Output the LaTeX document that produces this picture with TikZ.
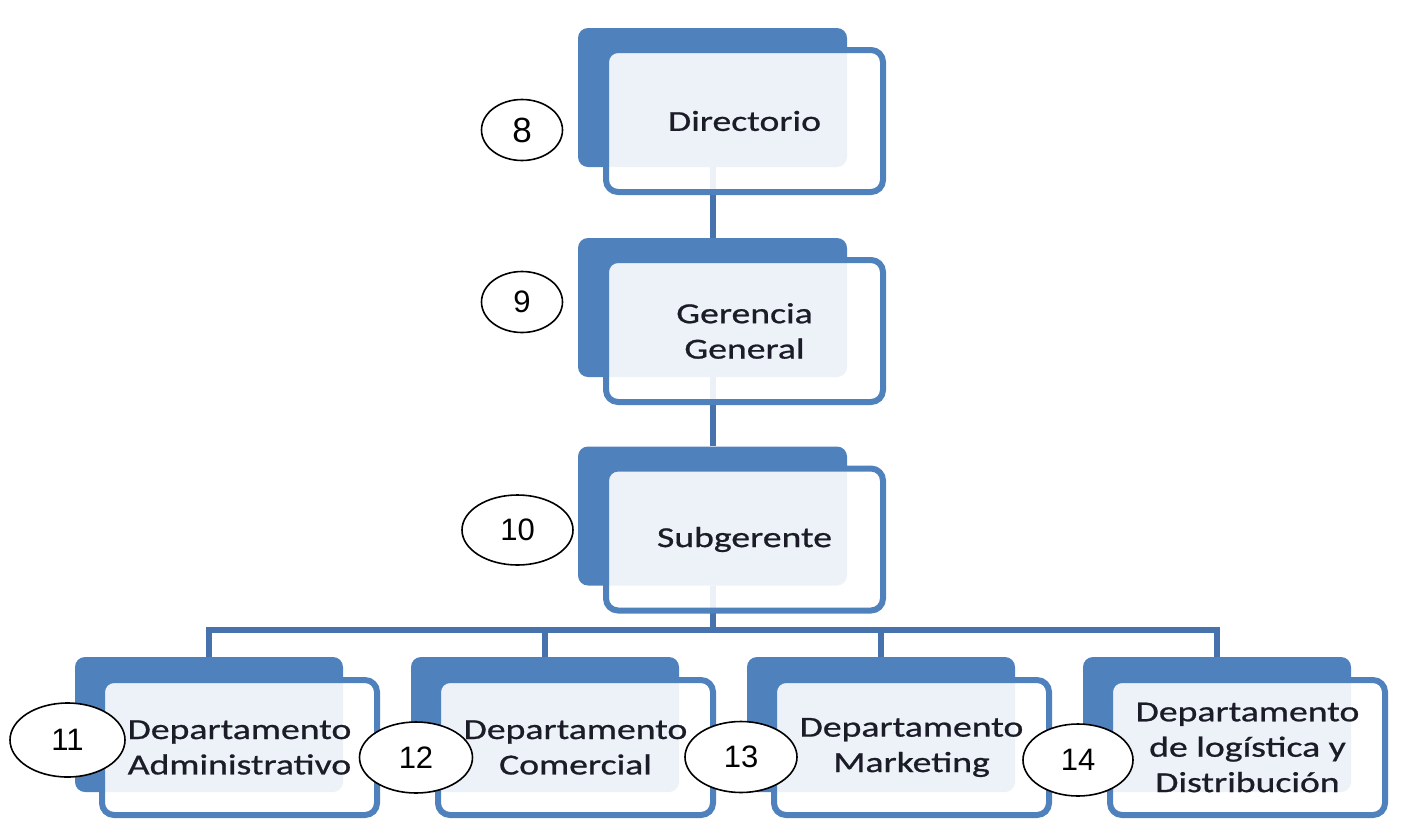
\documentclass[tikz,border=0pt]{standalone}
\usepackage{fontspec}
\usetikzlibrary{shapes.geometric}
\newfontfamily\boxfont[FakeStretch=1.3,FakeBold=0.8]{Carlito}
\newfontfamily\numfont{Liberation Sans}
\definecolor{backblue}{HTML}{4F81BD}
\definecolor{lineblue}{HTML}{4672AE}
\definecolor{boxtext}{HTML}{1C1C28}
\tikzset{
  backrect/.style={fill=backblue, rounded corners=10pt, inner sep=0pt, minimum width=269pt, minimum height=139pt},
  backrectlow/.style={backrect, minimum width=268pt, minimum height=135pt},
  frontbox/.style={draw=backblue, line width=6pt, fill=white, fill opacity=0.9, draw opacity=1, text opacity=1,
    rounded corners=12pt, inner sep=0pt, minimum width=277pt, minimum height=142pt,
    font=\boxfont\fontsize{29}{35.4}\selectfont, align=center, text=boxtext},
  frontboxlow/.style={frontbox, minimum width=275pt, minimum height=135pt},
  conn/.style={draw=lineblue, line width=6pt},
  numell/.style={ellipse, draw=black, line width=1.6pt, fill=white, inner sep=0pt,
    font=\numfont\fontsize{31}{36}\selectfont}
}
\begin{document}
\begin{tikzpicture}[x=1pt,y=-1pt]
\useasboundingbox (0,0) rectangle (1417,820);
% back rectangles
\node[backrect] (b1) at (712.5,97.5) {};
\node[backrect] (b2) at (712.5,307.5) {};
\node[backrect] (b3) at (712.5,516) {};
\node[backrectlow] (d1) at (209,724.5) {};
\node[backrectlow] (d2) at (545,724.5) {};
\node[backrectlow] (d3) at (881,724.5) {};
\node[backrectlow] (d4) at (1217,724.5) {};
% connectors
\coordinate (hub) at (712.5,630);
\draw[conn] (b1.south) -- (b2.north);
\draw[conn] (b2.south) -- (b3.north);
\draw[conn] (b3.south) -- (hub);
\draw[conn] (d1.north) -- (d1.north |- hub) -- (d4.north |- hub) -- (d4.north);
\draw[conn] (d2.north) -- (d2.north |- hub);
\draw[conn] (d3.north) -- (d3.north |- hub);
% front boxes
\node[frontbox] (f1) at (744.5,121) {Directorio};
\node[frontbox] (f2) at (744.5,331) {Gerencia\\General};
\node[frontbox] (f3) at (744.5,539.5) {Subgerente};
\node[frontboxlow] (g1) at (239.5,747.5) {Departamento\\Administrativo};
\node[frontboxlow] (g2) at (575.5,747.5) {Departamento\\Comercial};
\node[frontboxlow] (g3) at (911.5,747.5) {Departamento\\Marketing};
\node[frontboxlow] (g4) at (1247.5,747.5) {Departamento\\de logística y\\Distribución};
% number ellipses
\node[numell, minimum width=81pt, minimum height=61pt, font=\numfont\fontsize{35}{40}\selectfont] (n8) at (522,130) {8};
\node[numell, minimum width=81pt, minimum height=61pt] (n9) at (522,302) {9};
\node[numell, minimum width=111pt, minimum height=70pt] (n10) at (517.5,530) {10};
\node[numell, minimum width=115pt, minimum height=74pt] (n11) at (67.5,740) {11};
\node[numell, minimum width=113pt, minimum height=71pt] (n12) at (416,757.5) {12};
\node[numell, minimum width=112pt, minimum height=71pt] (n13) at (741,757) {13};
\node[numell, minimum width=110pt, minimum height=72pt] (n14) at (1078,760) {14};
\end{tikzpicture}
\end{document}
